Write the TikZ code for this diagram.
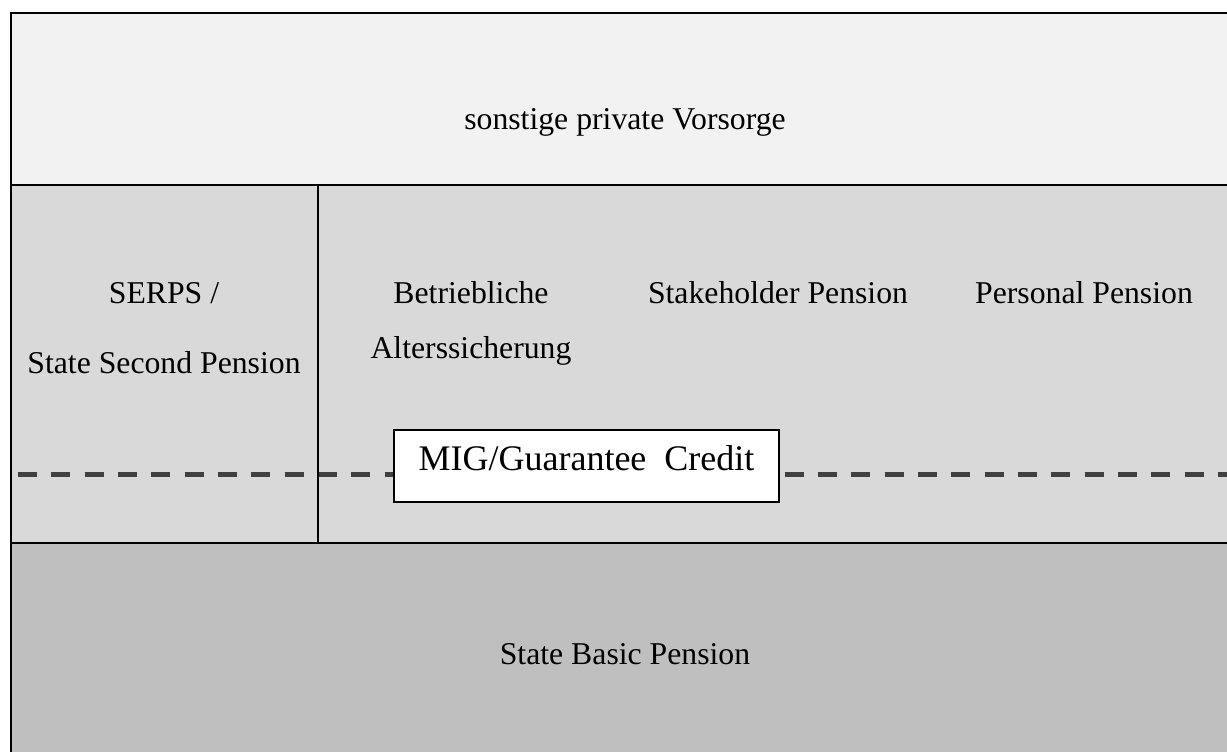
\documentclass[tikz,border=0pt]{standalone}
\usepackage{fontspec}
\setmainfont{Liberation Serif}
\definecolor{bandtop}{HTML}{F2F2F2}
\definecolor{bandmid}{HTML}{D9D9D9}
\definecolor{bandlow}{HTML}{BFBFBF}
\definecolor{dashgrey}{HTML}{404040}
\tikzset{
  lbl/.style={anchor=base, inner sep=0pt, font=\fontsize{23.8}{28}\selectfont},
  rule/.style={line width=1.5pt},
  migbox/.style={draw, fill=white, line width=1.5pt, minimum width=288.75pt, minimum height=54pt,
    text height=20pt, text depth=14pt, inner sep=0pt, font=\fontsize{27}{32}\selectfont},
}
\begin{document}
\begin{tikzpicture}[x=0.75pt,y=0.75pt,yscale=-1,xscale=1]
	\useasboundingbox (0,0) rectangle (1227,751);
	\clip (0,0) rectangle (1227,751);
	% bands
	\fill[bandtop] (11,13) rectangle (1240,185);
	\fill[bandmid] (11,185) rectangle (1240,543);
	\fill[bandlow] (11,543) rectangle (1240,760);
	\draw[dashgrey, line width=3.75pt, dash pattern=on 14.25pt off 10.75pt] (18,474) -- (1240,474);
	\draw[rule] (1240,13) -- (11,13) -- (11,760);
	\draw[rule] (11,185) -- (1240,185);
	\draw[rule] (11,543) -- (1240,543);
	\draw[rule] (318,185) -- (318,543);

	\node[migbox] (mig) at (586.5,466) {MIG/Guarantee\ \ Credit};
	\node[lbl] (vorsorge) at (625,129) {sonstige private Vorsorge};
	% multi-line nodes sit on their last line
	\node[lbl, align=center, font=\fontsize{23.8}{52.5}\selectfont] (serps) at (164,373) {SERPS /\\State Second Pension};
	\node[lbl, align=center, font=\fontsize{23.8}{41.25}\selectfont] (betrieb) at (471,358) {Betriebliche\\Alterssicherung};
	\node[lbl] (stake) at (778,303) {Stakeholder Pension};
	\node[lbl] (personal) at (1084,303) {Personal Pension};
	\node[lbl] (basic) at (625,664) {State Basic Pension};
\end{tikzpicture}
\end{document}
